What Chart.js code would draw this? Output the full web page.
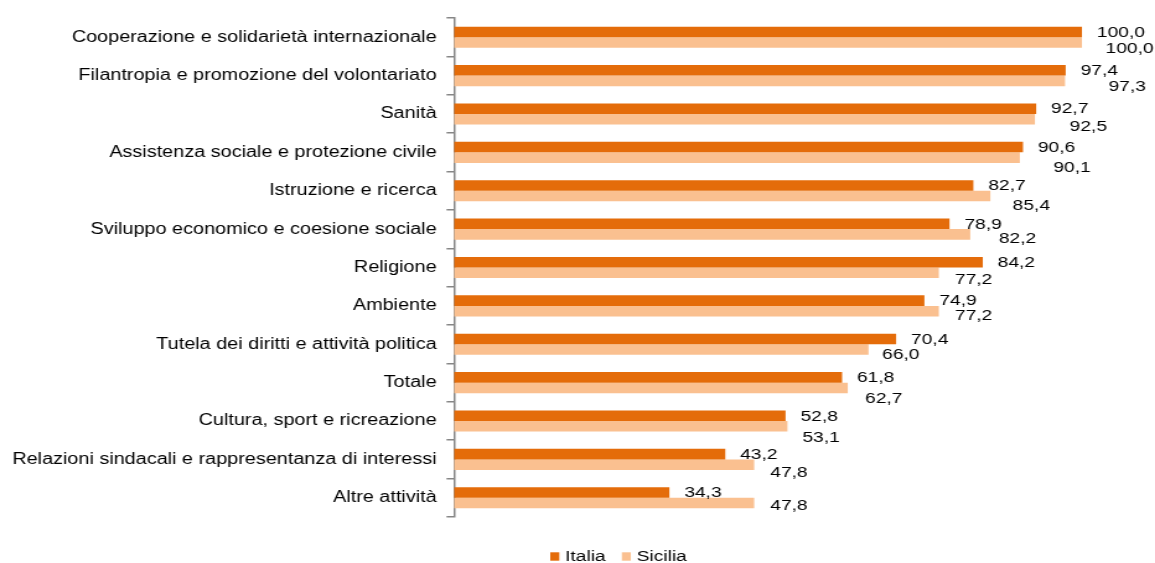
<!DOCTYPE html>
<html lang="it">
<head>
<meta charset="utf-8">
<title>Italia e Sicilia per settore</title>
<script src="https://cdn.jsdelivr.net/npm/chart.js@4"></script>
<style>
  html, body { margin: 0; padding: 0; background: #fff; overflow: hidden; }
  /* il grafico è disegnato più stretto e poi allargato in orizzontale */
  #wrap { width: 932px; height: 563px; transform: scaleX(1.2393); transform-origin: 0 0; }
</style>
</head>
<body>
<div id="wrap"><canvas id="grafico"></canvas></div>
<script>
// Dati
const categorie = [
    'Cooperazione e solidarietà internazionale',
    'Filantropia e promozione del volontariato',
    'Sanità',
    'Assistenza sociale e protezione civile',
    'Istruzione e ricerca',
    'Sviluppo economico e coesione sociale',
    'Religione',
    'Ambiente',
    'Tutela dei diritti e attività politica',
    'Totale',
    'Cultura, sport e ricreazione',
    'Relazioni sindacali e rappresentanza di interessi',
    'Altre attività'
];
const italia  = [100.0, 97.4, 92.7, 90.6, 82.7, 78.9, 84.2, 74.9, 70.4, 61.8, 52.8, 43.2, 34.3];
const sicilia = [100.0, 97.3, 92.5, 90.1, 85.4, 82.2, 77.2, 77.2, 66.0, 62.7, 53.1, 47.8, 47.8];

const FONT = '"Liberation Sans", Arial, sans-serif';
const GRIGIO = '#868686';

// Spostamenti delle etichette di Sicilia (spostate a mano nel grafico originale)
const spostaSiciliaX = [19, 35, 28, 27, 18, 23, 13, 13, 11, 14, 12, 13, 13];
const spostaSiciliaY = [6, 6, 7, 10, 10, 4, 7, 5, 5, 11, 11, 8, 3];

function formatta(v) {
    return v.toFixed(1).replace('.', ',');
}

// Etichette con i valori alla fine delle barre
const etichetteValori = {
    id: 'etichetteValori',
    afterDatasetsDraw(chart) {
        const ctx = chart.ctx;
        ctx.save();
        ctx.font = '15.5px ' + FONT;
        ctx.fillStyle = '#000';
        ctx.textAlign = 'left';
        ctx.textBaseline = 'middle';
        chart.data.datasets.forEach((ds, i) => {
            chart.getDatasetMeta(i).data.forEach((bar, j) => {
                const testo = formatta(ds.data[j]);
                if (i === 0) {
                    ctx.fillText(testo, bar.x + 12, bar.y + 0.5);
                } else {
                    ctx.fillText(testo, bar.x + spostaSiciliaX[j], bar.y + spostaSiciliaY[j]);
                }
            });
        });
        ctx.restore();
    }
};

// Legenda disegnata sotto il grafico
const legenda = {
    id: 'legenda',
    afterDraw(chart) {
        const ctx = chart.ctx;
        ctx.save();
        ctx.font = '15.5px ' + FONT;
        ctx.textBaseline = 'alphabetic';
        let x = 444;
        chart.data.datasets.forEach(ds => {
            ctx.fillStyle = ds.backgroundColor;
            ctx.fillRect(x, 552.3, 7.3, 8.4);
            ctx.fillStyle = '#000';
            ctx.fillText(ds.label, x + 12, 560.7);
            x += 12 + ctx.measureText(ds.label).width + 13;
        });
        ctx.restore();
    }
};

const ctx = document.getElementById('grafico').getContext('2d');
new Chart(ctx, {
    type: 'bar',
    data: {
        labels: categorie,
        datasets: [
            { label: 'Italia',  data: italia,  backgroundColor: '#E46C0A', borderWidth: 0 },
            { label: 'Sicilia', data: sicilia, backgroundColor: '#FAC090', borderWidth: 0 }
        ]
    },
    options: {
        indexAxis: 'y',
        responsive: true,
        maintainAspectRatio: false,
        animation: false,
        devicePixelRatio: 1,
        categoryPercentage: 0.55,
        barPercentage: 1.0,
        layout: { padding: { top: 18, bottom: 46, right: 58.9, left: 0 } },
        plugins: {
            legend: { display: false },
            tooltip: { enabled: false }
        },
        scales: {
            x: { display: false, min: 0, max: 100 },
            y: {
                afterFit(scale) { scale.width = 366.3; },
                border: { display: true, color: GRIGIO, width: 1.5 },
                grid: {
                    offset: true,
                    drawOnChartArea: false,
                    drawTicks: true,
                    tickLength: 6,
                    color: GRIGIO,
                    lineWidth: 1.5
                },
                ticks: {
                    color: '#000',
                    padding: 8,
                    font: { family: FONT, size: 16 }
                }
            }
        }
    },
    plugins: [etichetteValori, legenda]
});
</script>
</body>
</html>
